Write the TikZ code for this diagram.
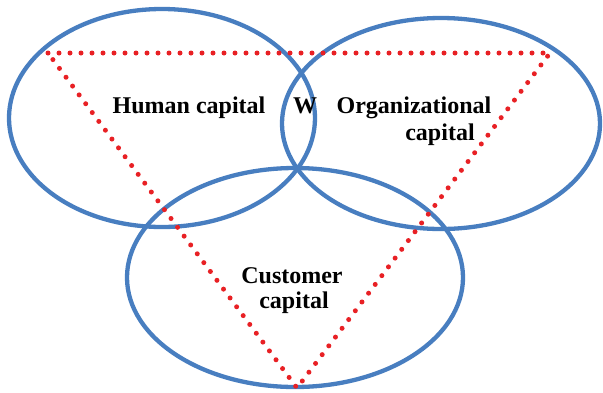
\documentclass[tikz,border=0pt]{standalone}
\usepackage{fontspec}
\setmainfont{Liberation Serif}
\usetikzlibrary{shapes.geometric}
\definecolor{ringblue}{RGB}{72,126,192}
\definecolor{dotred}{RGB}{232,32,36}
\tikzset{
  ring/.style={ellipse, draw=ringblue, line width=4.3pt, inner sep=0pt},
  dotline/.style={draw=dotred, line width=5pt, line cap=round, dash pattern=on 0pt off 11pt},
  capital/.style={anchor=base, inner sep=0pt, font=\bfseries\fontsize{24}{27}\selectfont}
}
\begin{document}
\begin{tikzpicture}[x=1pt,y=-1pt]
  \useasboundingbox (0,0) rectangle (603,392);
  % the three capitals
  \node[ring, minimum width=306pt, minimum height=218pt] (human) at (162,118) {};
  \node[ring, minimum width=318pt, minimum height=211pt] (org) at (441,123.5) {};
  \node[ring, minimum width=336pt, minimum height=219pt] (cust) at (295,277.5) {};
  % dotted triangle joining them
  \coordinate (tl) at (48,53);
  \coordinate (tr) at (550,53);
  \coordinate (bt) at (297,388);
  \draw[dotline] (tl) -- (tr) -- (bt) -- cycle;
  % labels
  \node[capital] (hlabel) at (189,113) {Human capital};
  \node[capital] (wlabel) at (305,113) {W};
  \node[capital] (olabel) at (414,113) {Organizational};
  \node[capital] (olabelb) at (440,140) {capital};
  \node[capital] (clabel) at (292,283) {Customer};
  \node[capital] (clabelb) at (294,308) {capital};
\end{tikzpicture}
\end{document}
